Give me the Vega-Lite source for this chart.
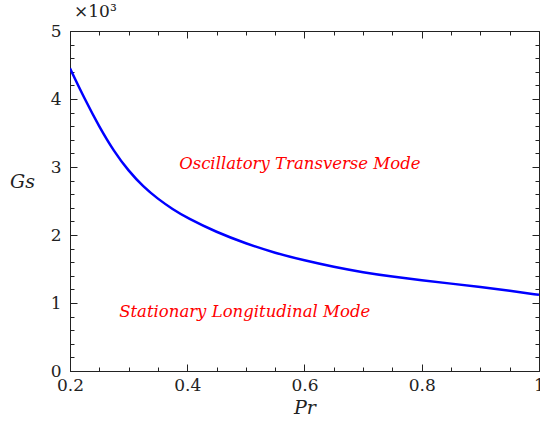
{
  "$schema": "https://vega.github.io/schema/vega-lite/v6.json",
  "width": 469,
  "height": 340,
  "autosize": {"type": "none"},
  "padding": {"left": 70, "top": 31, "right": 1, "bottom": 61},
  "background": "white",
  "title": {
    "text": "×10³",
    "anchor": "start",
    "frame": "group",
    "dx": 4,
    "offset": 1,
    "font": "DejaVu Serif",
    "fontSize": 17,
    "fontWeight": "normal",
    "color": "#222"
  },
  "config": {
    "view": {"stroke": "#222", "strokeWidth": 1},
    "axis": {
      "domainColor": "#222",
      "tickColor": "#222",
      "labelColor": "#222",
      "titleColor": "#222",
      "labelFont": "DejaVu Serif",
      "titleFont": "DejaVu Serif",
      "labelFontSize": 17,
      "titleFontSize": 19,
      "titleFontStyle": "italic",
      "titleFontWeight": "normal",
      "grid": false
    }
  },
  "datasets": {
    "curve": [
      {"Pr": 0.2, "Gs": 4450},
      {"Pr": 0.225, "Gs": 4000},
      {"Pr": 0.25, "Gs": 3590},
      {"Pr": 0.275, "Gs": 3230},
      {"Pr": 0.3, "Gs": 2940},
      {"Pr": 0.325, "Gs": 2710},
      {"Pr": 0.35, "Gs": 2530},
      {"Pr": 0.375, "Gs": 2380},
      {"Pr": 0.4, "Gs": 2250},
      {"Pr": 0.45, "Gs": 2040},
      {"Pr": 0.5, "Gs": 1875},
      {"Pr": 0.55, "Gs": 1735},
      {"Pr": 0.6, "Gs": 1625},
      {"Pr": 0.65, "Gs": 1530},
      {"Pr": 0.7, "Gs": 1450},
      {"Pr": 0.75, "Gs": 1388},
      {"Pr": 0.8, "Gs": 1335},
      {"Pr": 0.85, "Gs": 1285},
      {"Pr": 0.9, "Gs": 1235},
      {"Pr": 0.95, "Gs": 1180},
      {"Pr": 1.0, "Gs": 1120}
    ],
    "labels": [
      {"Pr": 0.592, "Gs": 3044, "text": "Oscillatory Transverse Mode"},
      {"Pr": 0.498, "Gs": 868, "text": "Stationary Longitudinal Mode"}
    ]
  },
  "layer": [
    {
      "data": {"name": "curve"},
      "mark": {"type": "line", "color": "#0000ff", "strokeWidth": 2.5, "interpolate": "basis", "clip": true},
      "encoding": {
        "x": {
          "field": "Pr", "type": "quantitative",
          "scale": {"domain": [0.2, 1.0], "nice": false, "zero": false},
          "axis": {
            "orient": "bottom",
            "title": "Pr",
            "values": [0.2, 0.25, 0.3, 0.35, 0.4, 0.45, 0.5, 0.55, 0.6, 0.65, 0.7, 0.75, 0.8, 0.85, 0.9, 0.95, 1.0],
            "labelExpr": "abs(datum.value*5 - round(datum.value*5)) < 0.001 ? format(datum.value, '~g') : ''",
            "tickSize": {"condition": {"test": "abs(datum.value*5 - round(datum.value*5)) < 0.001", "value": -7}, "value": -4},
            "labelPadding": 13,
            "labelFlush": false,
            "labelOverlap": false,
            "titlePadding": 2
          }
        },
        "y": {
          "field": "Gs", "type": "quantitative",
          "scale": {"domain": [0, 5000], "nice": false},
          "axis": {
            "orient": "left",
            "title": "Gs",
            "titleAngle": 0,
            "titleX": -48,
            "titleY": 150,
            "titleAlign": "center",
            "titleBaseline": "middle",
            "values": [0, 200, 400, 600, 800, 1000, 1200, 1400, 1600, 1800, 2000, 2200, 2400, 2600, 2800, 3000, 3200, 3400, 3600, 3800, 4000, 4200, 4400, 4600, 4800, 5000],
            "labelExpr": "datum.value % 1000 === 0 ? format(datum.value/1000, 'd') : ''",
            "tickSize": {"condition": {"test": "datum.value % 1000 === 0", "value": -7}, "value": -4},
            "labelPadding": 16,
            "labelFlush": false,
            "labelOverlap": false
          }
        }
      }
    },
    {
      "data": {"name": "curve"},
      "mark": {"type": "point", "opacity": 0},
      "encoding": {
        "x": {
          "field": "Pr", "type": "quantitative",
          "axis": {
            "orient": "top",
            "title": null,
            "labels": false,
            "values": [0.2, 0.25, 0.3, 0.35, 0.4, 0.45, 0.5, 0.55, 0.6, 0.65, 0.7, 0.75, 0.8, 0.85, 0.9, 0.95, 1.0],
            "tickSize": {"condition": {"test": "abs(datum.value*5 - round(datum.value*5)) < 0.001", "value": -7}, "value": -4}
          }
        },
        "y": {
          "field": "Gs", "type": "quantitative",
          "axis": {
            "orient": "right",
            "title": null,
            "labels": false,
            "values": [0, 200, 400, 600, 800, 1000, 1200, 1400, 1600, 1800, 2000, 2200, 2400, 2600, 2800, 3000, 3200, 3400, 3600, 3800, 4000, 4200, 4400, 4600, 4800, 5000],
            "tickSize": {"condition": {"test": "datum.value % 1000 === 0", "value": -7}, "value": -4}
          }
        }
      }
    },
    {
      "data": {"name": "labels"},
      "mark": {"type": "text", "color": "#ff0000", "font": "DejaVu Serif", "fontStyle": "italic", "fontSize": 16.5, "align": "center", "baseline": "middle"},
      "encoding": {
        "x": {"field": "Pr", "type": "quantitative", "axis": null},
        "y": {"field": "Gs", "type": "quantitative", "axis": null},
        "text": {"field": "text", "type": "nominal"}
      }
    }
  ],
  "resolve": {"axis": {"x": "independent", "y": "independent"}}
}
